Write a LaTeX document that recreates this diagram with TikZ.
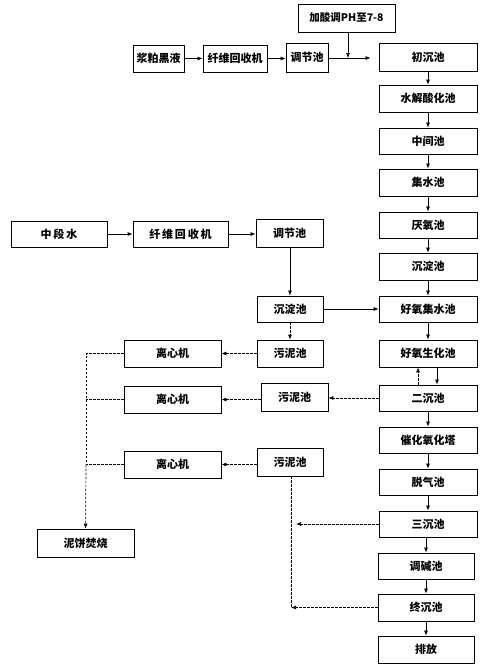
\documentclass[tikz,border=0pt]{standalone}
\usepackage{fontspec}
\setmainfont{Noto Sans CJK SC}
\usetikzlibrary{arrows.meta}
\begin{document}
\begin{tikzpicture}[x=1pt,y=-1pt,
  box/.style={draw, line width=0.8pt, inner sep=0pt, font=\fontsize{11}{13}\selectfont\bfseries},
  arr/.style={-{Latex[length=5pt,width=4pt]}, line width=0.7pt},
  dsh/.style={dash pattern=on 2.5pt off 1.5pt, line width=0.7pt},
  darr/.style={dsh, -{Latex[length=5pt,width=4pt]}}]
\useasboundingbox (0,0) rectangle (486,667);
% top row
\node[box, minimum width=51pt, minimum height=27pt] (hy) at (158.5,58.5) {浆粕黑液};
\node[box, minimum width=64pt, minimum height=27pt] (xwa) at (235,58.5) {纤维回收机};
\node[box, minimum width=42pt, minimum height=29pt] (tja) at (307,57.5) {调节池};
\node[box, minimum width=97pt, minimum height=28pt, font=\fontsize{10.5}{12}\selectfont\bfseries] (js) at (346.5,18) {加酸调PH至7-8};
% right column
\node[box, minimum width=98pt, minimum height=28pt] (r1) at (428,57) {初沉池};
\node[box, minimum width=98pt, minimum height=27pt] (r2) at (428,98.5) {水解酸化池};
\node[box, minimum width=98pt, minimum height=26pt] (r3) at (428,141) {中间池};
\node[box, minimum width=98pt, minimum height=27pt] (r4) at (428,182.5) {集水池};
\node[box, minimum width=98pt, minimum height=26pt] (r5) at (428,225) {厌氧池};
\node[box, minimum width=98pt, minimum height=27pt] (r6) at (428,266.5) {沉淀池};
\node[box, minimum width=98pt, minimum height=26pt] (r7) at (428,309) {好氧集水池};
\node[box, minimum width=98pt, minimum height=27pt] (r8) at (428,353.5) {好氧生化池};
\node[box, minimum width=98pt, minimum height=26pt] (r9) at (428,398) {二沉池};
\node[box, minimum width=98pt, minimum height=26pt] (r10) at (428,440) {催化氧化塔};
\node[box, minimum width=98pt, minimum height=26pt] (r11) at (428,482) {脱气池};
\node[box, minimum width=98pt, minimum height=26pt] (r12) at (428,524) {三沉池};
\node[box, minimum width=96pt, minimum height=26pt] (r13) at (426,566) {调碱池};
\node[box, minimum width=96pt, minimum height=27pt] (r14) at (426,607.5) {终沉池};
\node[box, minimum width=96pt, minimum height=27pt] (r15) at (426,649.5) {排放};
% middle part
\node[box, minimum width=96pt, minimum height=26pt] (zd) at (59,234) {中\,段\,水};
\node[box, minimum width=95pt, minimum height=26pt] (xwb) at (180.5,234) {纤\,维\,回\,收\,机};
\node[box, minimum width=67pt, minimum height=28pt] (tjb) at (289.5,233) {调节池};
\node[box, minimum width=66pt, minimum height=26pt] (cdb) at (290,309) {沉淀池};
\node[box, minimum width=66pt, minimum height=27pt] (wn1) at (290,353.5) {污泥池};
\node[box, minimum width=97pt, minimum height=27pt] (lx1) at (172.5,353.5) {离心机};
\node[box, minimum width=67pt, minimum height=28pt] (wn2) at (294.5,397) {污泥池};
\node[box, minimum width=97pt, minimum height=27pt] (lx2) at (172.5,399.5) {离心机};
\node[box, minimum width=66pt, minimum height=28pt] (wn3) at (290,462) {污泥池};
\node[box, minimum width=97pt, minimum height=27pt] (lx3) at (172.5,464.5) {离心机};
\node[box, minimum width=97pt, minimum height=28pt] (nb) at (85.5,543) {泥饼焚烧};
% coordinates
\coordinate (j1) at (348,58);
\coordinate (c1) at (86,353.5);
\coordinate (c2) at (86,399.5);
\coordinate (c3) at (86,464.5);
\coordinate (c4) at (296,524);
\coordinate (c5) at (291,607.5);
% top connectors
\draw[arr] (hy) -- (xwa);
\draw[arr] (xwa) -- (tja.west |- xwa);
\draw[arr, shorten >=8pt] (tja.east |- j1) -- (r1.west |- j1);
\draw[arr] (js.south -| j1) -- (j1);
% right column chain
\foreach \a/\b in {r1/r2,r2/r3,r3/r4,r4/r5,r5/r6,r6/r7,r7/r8,r9/r10,r10/r11,r11/r12}
  \draw[arr] (\a) -- (\b);
\draw[arr] (r12.south -| r13) -- (r13);
\draw[arr] (r13) -- (r14);
\draw[arr] (r14) -- (r15);
\draw[arr] ([xshift=9pt]r8.south) -- ([xshift=9pt]r9.north);
\draw[darr] ([xshift=-10pt]r9.north) -- ([xshift=-10pt]r8.south);
% middle connectors
\draw[arr] (zd) -- (xwb);
\draw[arr] (xwb) -- (xwb -| tjb.west);
\draw[arr] (tjb.south -| cdb) -- (cdb);
\draw[arr] (cdb) -- (r7);
\draw[darr] (cdb) -- (wn1);
\draw[darr] (wn1) -- (lx1);
\draw[darr] (r9) -- (r9 -| wn2.east);
\draw[darr] (wn2.west |- lx2) -- (lx2);
\draw[darr] (wn3.west |- lx3) -- (lx3);
\draw[dsh] (lx1) -- (c1) -- (c3);
\draw[darr] (c3) -- (nb);
\draw[dsh] (lx2) -- (c2);
\draw[dsh] (lx3) -- (c3);
\draw[dsh] (wn3.south -| c5) -- (c5);
\draw[darr] (r12) -- (c4);
\draw[darr] (r14) -- (c5);
\end{tikzpicture}
\end{document}
